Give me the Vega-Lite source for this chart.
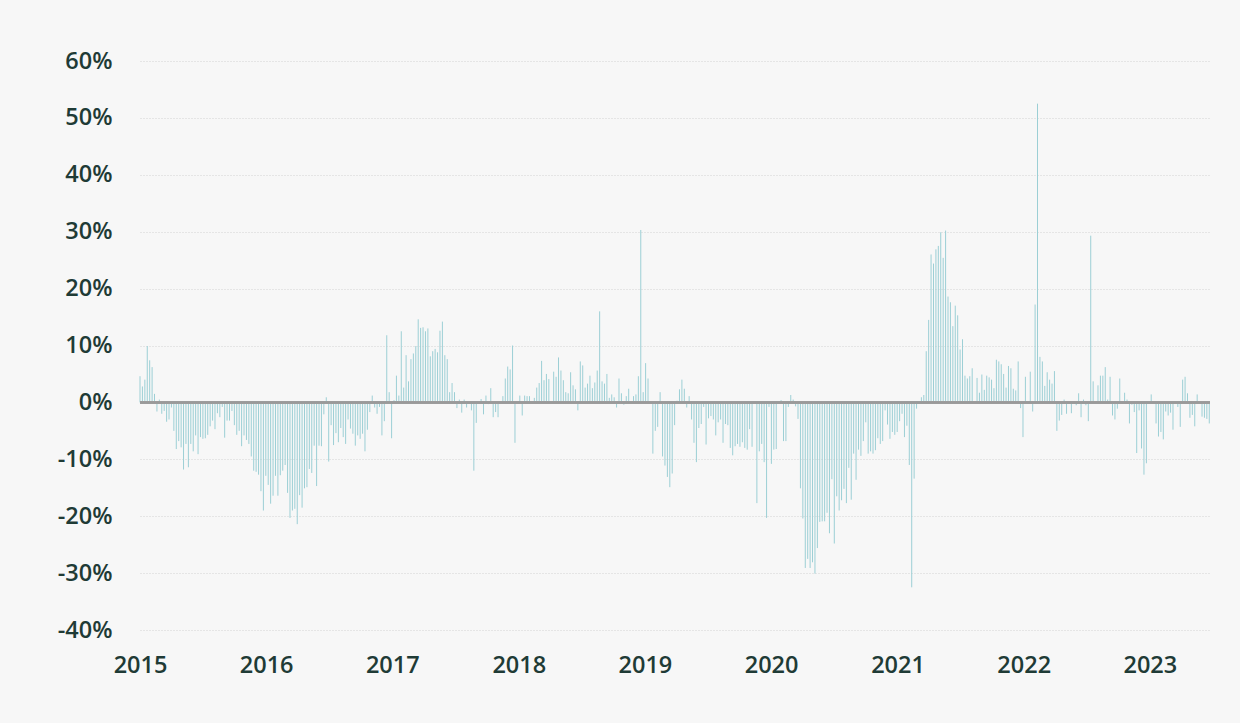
{
  "$schema": "https://vega.github.io/schema/vega-lite/v6.json",
  "autosize": "none",
  "width": 1070,
  "height": 569,
  "padding": {"left": 140, "top": 61, "right": 30, "bottom": 93},
  "background": "#f7f7f7",
  "config": {
    "view": {"stroke": null},
    "axis": {
      "labelFont": "Open Sans",
      "labelFontWeight": 600,
      "labelFontSize": 23.5,
      "labelColor": "#1f3b36",
      "domain": false,
      "ticks": false
    }
  },
  "data": {"values": [
{"w":0,"v":4.6},{"w":1,"v":2.8},{"w":2,"v":4.0},{"w":3,"v":9.9},{"w":4,"v":7.4},{"w":5,"v":6.2},{"w":6,"v":1.5},{"w":7,"v":-1.6},{"w":8,"v":0.5},{"w":9,"v":-2.0},
{"w":10,"v":-1.5},{"w":11,"v":-3.4},{"w":12,"v":-3.0},{"w":13,"v":-0.9},{"w":14,"v":-5.0},{"w":15,"v":-8.2},{"w":16,"v":-6.8},{"w":17,"v":-7.9},{"w":18,"v":-11.8},{"w":19,"v":-7.3},
{"w":20,"v":-11.4},{"w":21,"v":-7.3},{"w":22,"v":-8.6},{"w":23,"v":-5.8},{"w":24,"v":-9.1},{"w":25,"v":-6.1},{"w":26,"v":-6.4},{"w":27,"v":-6.3},{"w":28,"v":-5.7},{"w":29,"v":-4.2},
{"w":30,"v":-3.2},{"w":31,"v":-4.7},{"w":32,"v":-1.9},{"w":33,"v":-2.6},{"w":34,"v":-0.8},{"w":35,"v":-6.2},{"w":36,"v":-3.2},{"w":37,"v":-3.2},{"w":38,"v":-1.5},{"w":39,"v":-4.0},
{"w":40,"v":-5.7},{"w":41,"v":-5.0},{"w":42,"v":-7.7},{"w":43,"v":-5.8},{"w":44,"v":-6.6},{"w":45,"v":-7.3},{"w":46,"v":-9.5},{"w":47,"v":-12.0},{"w":48,"v":-12.2},{"w":49,"v":-12.7},
{"w":50,"v":-15.6},{"w":51,"v":-19.0},{"w":52,"v":-12.9},{"w":53,"v":-14.5},{"w":54,"v":-17.8},{"w":55,"v":-16.4},{"w":56,"v":-12.9},{"w":57,"v":-16.4},{"w":58,"v":-12.8},{"w":59,"v":-12.0},
{"w":60,"v":-11.0},{"w":61,"v":-15.9},{"w":62,"v":-20.3},{"w":63,"v":-19.0},{"w":64,"v":-18.7},{"w":65,"v":-21.4},{"w":66,"v":-16.3},{"w":67,"v":-18.5},{"w":68,"v":-15.1},{"w":69,"v":-14.9},
{"w":70,"v":-11.7},{"w":71,"v":-12.4},{"w":72,"v":-7.6},{"w":73,"v":-14.7},{"w":74,"v":-7.6},{"w":75,"v":-7.7},{"w":76,"v":-2.1},{"w":77,"v":0.9},{"w":78,"v":-10.4},{"w":79,"v":-4.0},
{"w":80,"v":-7.5},{"w":81,"v":-5.4},{"w":82,"v":-7.0},{"w":83,"v":-4.5},{"w":84,"v":-6.1},{"w":85,"v":-7.3},{"w":86,"v":-3.0},{"w":87,"v":-4.6},{"w":88,"v":-5.5},{"w":89,"v":-7.6},
{"w":90,"v":-5.8},{"w":91,"v":-6.4},{"w":92,"v":-5.5},{"w":93,"v":-8.6},{"w":94,"v":-4.8},{"w":95,"v":-1.7},{"w":96,"v":1.2},{"w":97,"v":-0.9},{"w":98,"v":-2.0},{"w":99,"v":-0.8},
{"w":100,"v":-5.8},{"w":101,"v":-3.3},{"w":102,"v":11.8},{"w":103,"v":1.8},{"w":104,"v":-6.3},{"w":105,"v":0.4},{"w":106,"v":4.7},{"w":107,"v":1.2},{"w":108,"v":12.5},{"w":109,"v":2.6},
{"w":110,"v":8.3},{"w":111,"v":3.7},{"w":112,"v":7.6},{"w":113,"v":8.6},{"w":114,"v":9.9},{"w":115,"v":14.6},{"w":116,"v":13.1},{"w":117,"v":13.2},{"w":118,"v":12.5},{"w":119,"v":13.0},
{"w":120,"v":8.1},{"w":121,"v":9.0},{"w":122,"v":9.4},{"w":123,"v":8.8},{"w":124,"v":12.6},{"w":125,"v":14.2},{"w":126,"v":8.3},{"w":127,"v":7.6},{"w":128,"v":1.8},{"w":129,"v":3.4},
{"w":130,"v":1.8},{"w":131,"v":-1.0},{"w":132,"v":0.5},{"w":133,"v":-1.8},{"w":134,"v":0.5},{"w":135,"v":-0.9},{"w":136,"v":0.2},{"w":137,"v":-1.4},{"w":138,"v":-12.0},{"w":139,"v":-3.6},
{"w":140,"v":0},{"w":141,"v":0.6},{"w":142,"v":-2.1},{"w":143,"v":1.2},{"w":144,"v":-0.3},{"w":145,"v":2.5},{"w":146,"v":-2.6},{"w":147,"v":-1.7},{"w":148,"v":-2.6},{"w":149,"v":0},
{"w":150,"v":1.1},{"w":151,"v":4.2},{"w":152,"v":6.3},{"w":153,"v":5.8},{"w":154,"v":10.0},{"w":155,"v":-7.1},{"w":156,"v":0},{"w":157,"v":1.2},{"w":158,"v":-2.3},{"w":159,"v":1.2},
{"w":160,"v":1.1},{"w":161,"v":1.1},{"w":162,"v":0},{"w":163,"v":0.8},{"w":164,"v":2.6},{"w":165,"v":3.4},{"w":166,"v":7.3},{"w":167,"v":3.9},{"w":168,"v":5.0},{"w":169,"v":4.1},
{"w":170,"v":0.2},{"w":171,"v":5.4},{"w":172,"v":4.5},{"w":173,"v":7.9},{"w":174,"v":5.6},{"w":175,"v":3.9},{"w":176,"v":1.8},{"w":177,"v":1.6},{"w":178,"v":5.3},{"w":179,"v":3.0},
{"w":180,"v":2.3},{"w":181,"v":-1.4},{"w":182,"v":7.2},{"w":183,"v":6.5},{"w":184,"v":2.6},{"w":185,"v":3.3},{"w":186,"v":4.7},{"w":187,"v":2.5},{"w":188,"v":3.5},{"w":189,"v":5.6},
{"w":190,"v":16.0},{"w":191,"v":3.7},{"w":192,"v":3.3},{"w":193,"v":5.0},{"w":194,"v":0.8},{"w":195,"v":1.4},{"w":196,"v":0.9},{"w":197,"v":-0.9},{"w":198,"v":4.2},{"w":199,"v":1.6},
{"w":200,"v":-0.4},{"w":201,"v":1.1},{"w":202,"v":2.4},{"w":203,"v":0},{"w":204,"v":1.1},{"w":205,"v":1.4},{"w":206,"v":4.6},{"w":207,"v":30.3},{"w":208,"v":1.8},{"w":209,"v":6.9},
{"w":210,"v":4.2},{"w":211,"v":0.2},{"w":212,"v":-9.0},{"w":213,"v":-5.0},{"w":214,"v":-4.3},{"w":215,"v":1.8},{"w":216,"v":-9.5},{"w":217,"v":-11.1},{"w":218,"v":-13.1},{"w":219,"v":-14.9},
{"w":220,"v":-12.5},{"w":221,"v":-4.0},{"w":222,"v":0.3},{"w":223,"v":2.3},{"w":224,"v":4.0},{"w":225,"v":2.4},{"w":226,"v":-0.9},{"w":227,"v":1.1},{"w":228,"v":-3.0},{"w":229,"v":-7.1},
{"w":230,"v":-10.5},{"w":231,"v":-4.5},{"w":232,"v":-3.8},{"w":233,"v":-0.8},{"w":234,"v":-7.4},{"w":235,"v":-2.8},{"w":236,"v":-2.4},{"w":237,"v":-3.0},{"w":238,"v":-5.8},{"w":239,"v":-3.5},
{"w":240,"v":-3.0},{"w":241,"v":-7.1},{"w":242,"v":-3.8},{"w":243,"v":-4.0},{"w":244,"v":-8.0},{"w":245,"v":-9.3},{"w":246,"v":-7.7},{"w":247,"v":-7.3},{"w":248,"v":-7.8},{"w":249,"v":-7.0},
{"w":250,"v":-8.0},{"w":251,"v":-8.3},{"w":252,"v":-4.7},{"w":253,"v":-7.8},{"w":254,"v":0},{"w":255,"v":-17.7},{"w":256,"v":-8.6},{"w":257,"v":-7.3},{"w":258,"v":-10.5},{"w":259,"v":-20.3},
{"w":260,"v":-0.8},{"w":261,"v":-10.8},{"w":262,"v":-8.3},{"w":263,"v":-8.2},{"w":264,"v":0.2},{"w":265,"v":0.4},{"w":266,"v":-6.8},{"w":267,"v":-6.8},{"w":268,"v":-0.8},{"w":269,"v":1.3},
{"w":270,"v":0.5},{"w":271,"v":-0.7},{"w":272,"v":-2.9},{"w":273,"v":-15.1},{"w":274,"v":-20.4},{"w":275,"v":-29.1},{"w":276,"v":-27.5},{"w":277,"v":-29.1},{"w":278,"v":-28.1},{"w":279,"v":-30.1},
{"w":280,"v":-25.6},{"w":281,"v":-21.0},{"w":282,"v":-20.9},{"w":283,"v":-20.9},{"w":284,"v":-19.4},{"w":285,"v":-23.0},{"w":286,"v":-13.5},{"w":287,"v":-24.8},{"w":288,"v":-16.5},{"w":289,"v":-19.0},
{"w":290,"v":-17.2},{"w":291,"v":-15.2},{"w":292,"v":-17.7},{"w":293,"v":-11.5},{"w":294,"v":-17.1},{"w":295,"v":-9.0},{"w":296,"v":-13.6},{"w":297,"v":-8.3},{"w":298,"v":-9.4},{"w":299,"v":-6.8},
{"w":300,"v":-3.5},{"w":301,"v":-9.0},{"w":302,"v":-8.6},{"w":303,"v":-9.0},{"w":304,"v":-8.4},{"w":305,"v":-6.3},{"w":306,"v":-7.3},{"w":307,"v":-6.8},{"w":308,"v":-1.4},{"w":309,"v":-3.9},
{"w":310,"v":-6.4},{"w":311,"v":-5.2},{"w":312,"v":-5.7},{"w":313,"v":-5.2},{"w":314,"v":-3.3},{"w":315,"v":-2.0},{"w":316,"v":-6.1},{"w":317,"v":-4.1},{"w":318,"v":-11.0},{"w":319,"v":-32.5},
{"w":320,"v":-13.4},{"w":321,"v":-1.1},{"w":322,"v":0},{"w":323,"v":0.9},{"w":324,"v":1.3},{"w":325,"v":9.0},{"w":326,"v":14.5},{"w":327,"v":26.0},{"w":328,"v":24.4},{"w":329,"v":26.9},
{"w":330,"v":27.5},{"w":331,"v":29.9},{"w":332,"v":25.4},{"w":333,"v":30.2},{"w":334,"v":18.6},{"w":335,"v":17.6},{"w":336,"v":13.4},{"w":337,"v":17.0},{"w":338,"v":15.3},{"w":339,"v":9.3},
{"w":340,"v":11.1},{"w":341,"v":4.7},{"w":342,"v":4.2},{"w":343,"v":4.6},{"w":344,"v":6.0},{"w":345,"v":-0.2},{"w":346,"v":4.3},{"w":347,"v":1.7},{"w":348,"v":4.9},{"w":349,"v":2.2},
{"w":350,"v":4.7},{"w":351,"v":4.4},{"w":352,"v":4.0},{"w":353,"v":2.5},{"w":354,"v":7.5},{"w":355,"v":7.2},{"w":356,"v":6.7},{"w":357,"v":5.0},{"w":358,"v":2.6},{"w":359,"v":6.4},
{"w":360,"v":6.0},{"w":361,"v":2.4},{"w":362,"v":2.1},{"w":363,"v":7.2},{"w":364,"v":-1.0},{"w":365,"v":-6.1},{"w":366,"v":4.5},{"w":367,"v":0},{"w":368,"v":5.4},{"w":369,"v":-1.6},
{"w":370,"v":17.2},{"w":371,"v":52.5},{"w":372,"v":8.0},{"w":373,"v":7.2},{"w":374,"v":2.9},{"w":375,"v":5.3},{"w":376,"v":4.0},{"w":377,"v":3.3},{"w":378,"v":5.5},{"w":379,"v":-5.0},
{"w":380,"v":-3.2},{"w":381,"v":-2.2},{"w":382,"v":0.5},{"w":383,"v":-2.0},{"w":384,"v":0.2},{"w":385,"v":-1.9},{"w":386,"v":0},{"w":387,"v":-0.5},{"w":388,"v":1.6},{"w":389,"v":-2.6},
{"w":390,"v":0.5},{"w":391,"v":-0.5},{"w":392,"v":-3.3},{"w":393,"v":29.3},{"w":394,"v":3.7},{"w":395,"v":0},{"w":396,"v":3.0},{"w":397,"v":4.7},{"w":398,"v":4.7},{"w":399,"v":6.2},
{"w":400,"v":0.5},{"w":401,"v":4.5},{"w":402,"v":-2.3},{"w":403,"v":-3.0},{"w":404,"v":-1.1},{"w":405,"v":4.2},{"w":406,"v":-0.2},{"w":407,"v":1.7},{"w":408,"v":0.5},{"w":409,"v":-3.7},
{"w":410,"v":-0.4},{"w":411,"v":-1.7},{"w":412,"v":-8.9},{"w":413,"v":-1.4},{"w":414,"v":-8.1},{"w":415,"v":-12.7},{"w":416,"v":-10.7},{"w":417,"v":0},{"w":418,"v":1.4},{"w":419,"v":0.2},
{"w":420,"v":-3.7},{"w":421,"v":-6.0},{"w":422,"v":-5.2},{"w":423,"v":-6.5},{"w":424,"v":-1.6},{"w":425,"v":-2.3},{"w":426,"v":-1.8},{"w":427,"v":-4.8},{"w":428,"v":0.2},{"w":429,"v":-0.8},
{"w":430,"v":-4.3},{"w":431,"v":4.0},{"w":432,"v":4.5},{"w":433,"v":1.6},{"w":434,"v":-2.7},{"w":435,"v":-2.2},{"w":436,"v":-4.2},{"w":437,"v":1.4},{"w":438,"v":0},{"w":439,"v":-2.5},
{"w":440,"v":-2.7},{"w":441,"v":-2.9},{"w":442,"v":-3.7}
  ]},
  "layer": [
    {
      "mark": {"type": "rule", "color": "#9ccfd5", "strokeWidth": 1},
      "encoding": {
        "x": {
          "field": "w", "type": "quantitative",
          "scale": {"domain": [0, 442.3], "nice": false, "zero": false},
          "axis": {
            "title": null,
            "grid": false,
            "values": [0, 52.14, 104.29, 156.57, 208.71, 260.86, 313.14, 365.29, 417.43],
            "labelExpr": "'' + (2015 + round(datum.value / 52.18))",
            "labelPadding": 23,
            "labelFlush": false,
            "labelOverlap": false
          }
        },
        "y": {
          "field": "v", "type": "quantitative",
          "scale": {"domain": [-40, 60], "nice": false},
          "axis": {
            "title": null,
            "values": [-40, -30, -20, -10, 0, 10, 20, 30, 40, 50, 60],
            "labelExpr": "datum.value + '%'",
            "labelPadding": 28,
            "grid": true,
            "gridColor": "#d2d2d2",
            "gridDash": [1, 2],
            "gridWidth": 1
          }
        },
        "y2": {"datum": 0}
      }
    },
    {
      "mark": {"type": "rule", "color": "#9a9a9a", "strokeWidth": 1.5},
      "encoding": {"y": {"datum": 0}}
    }
  ]
}
